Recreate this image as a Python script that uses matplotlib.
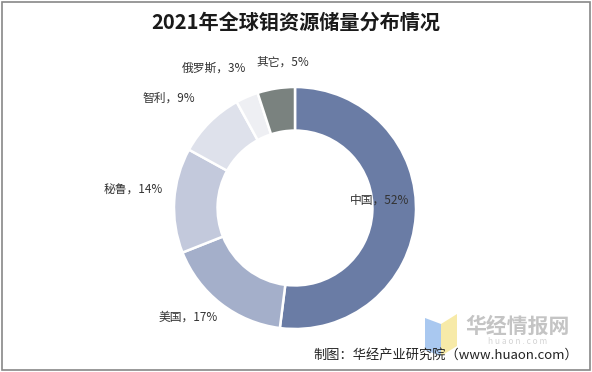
import matplotlib
matplotlib.use("Agg")
import matplotlib.pyplot as plt
from matplotlib.patches import Polygon, Rectangle

plt.rcParams['font.family'] = ['Noto Sans CJK SC', 'DejaVu Sans']

title = "2021年全球钼资源储量分布情况"
countries = ["中国", "美国", "秘鲁", "智利", "俄罗斯", "其它"]
shares = [52, 17, 14, 9, 3, 5]
colors = ["#6a7ca5", "#a4afca", "#c3c9dc", "#dee1eb", "#eeeff3", "#7a827f"]
# label anchor positions in pixels (x, y from top)
label_pos = [(380, 200), (188, 317), (133, 190), (169, 98), (214, 68), (283, 62)]

W, H = 592, 372
fig = plt.figure(figsize=(W / 100, H / 100), dpi=100)
fig.patch.set_facecolor("white")

cx, cy, r = 295, 208, 121
ax = fig.add_axes([(cx - r) / W, (H - cy - r) / H, 2 * r / W, 2 * r / H])
ax.pie(shares, colors=colors, startangle=90, counterclock=False, radius=1,
       wedgeprops=dict(width=0.36, edgecolor="white", linewidth=1.8))
ax.set_xlim(-1, 1)
ax.set_ylim(-1, 1)
ax.set_aspect("equal")
ax.axis("off")

for name, v, (px, py) in zip(countries, shares, label_pos):
    fig.text(px / W, 1 - py / H, f"{name}，{v}%", ha="center", va="center",
             fontsize=8.5, color="#333333")

fig.text(296 / W, 1 - 22 / H, title, ha="center", va="center", fontsize=14.5,
         fontweight="bold", color="#1a1a1a")

# watermark logo
fig.patches.append(Polygon([(425 / W, 1 - 318 / H), (441 / W, 1 - 324 / H),
                            (441 / W, 1 - 356 / H), (425 / W, 1 - 350 / H)],
                           closed=True, transform=fig.transFigure,
                           facecolor="#a9c8f0", edgecolor="none", zorder=0))
fig.patches.append(Polygon([(441 / W, 1 - 324 / H), (457 / W, 1 - 314 / H),
                            (457 / W, 1 - 346 / H), (441 / W, 1 - 356 / H)],
                           closed=True, transform=fig.transFigure,
                           facecolor="#f7eaa8", edgecolor="none", zorder=0))
fig.text(518 / W, 1 - 326 / H, "华经情报网", ha="center", va="center",
         fontsize=15, fontweight="bold", color="#c4c4c4")
fig.text(518 / W, 1 - 341 / H, "h u a o n . c o m", ha="center", va="center",
         fontsize=6, color="#d4d4d4")

fig.text(446 / W, 1 - 355 / H, "制图：华经产业研究院（www.huaon.com）", ha="center",
         va="center", fontsize=9.5, color="#222222")

# border
fig.patches.append(Rectangle((1.5 / W, 2.5 / H), (W - 3.5) / W, (H - 4.5) / H,
                             transform=fig.transFigure, fill=False,
                             edgecolor="#888888", linewidth=1.2))

fig.savefig("out.png", dpi=100, facecolor="white")
